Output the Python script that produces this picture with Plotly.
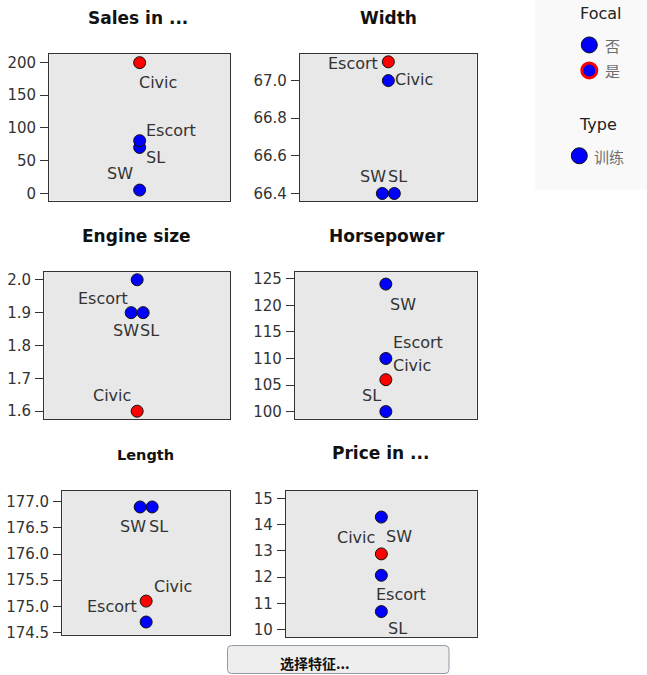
import plotly.graph_objects as go

# ---- data: focal car and its nearest neighbours ----
names = ["Civic", "Escort", "SW", "SL"]
is_focal = [True, False, False, False]

sales_in_thousands = [199.685, 70.227, 5.223, 80.620]
width = [67.1, 67.0, 66.4, 66.4]
engine_size = [1.6, 2.0, 1.9, 1.9]
horsepower = [106, 110, 124, 100]
length = [175.1, 174.7, 176.9, 176.9]
price_in_thousands = [12.885, 12.070, 14.290, 10.685]

panel_titles = ["Sales in ...", "Width", "Engine size", "Horsepower", "Length", "Price in ..."]
panel_values = [sales_in_thousands, width, engine_size, horsepower, length, price_in_thousands]

tick_sales = [0, 50, 100, 150, 200]
tick_width = [66.4, 66.6, 66.8, 67.0]
tick_engine = [1.6, 1.7, 1.8, 1.9, 2.0]
tick_hp = [100, 105, 110, 115, 120, 125]
tick_length = [174.5, 175.0, 175.5, 176.0, 176.5, 177.0]
tick_price = [10, 11, 12, 13, 14, 15]
panel_ticks = [tick_sales, tick_width, tick_engine, tick_hp, tick_length, tick_price]

focal_title = "Focal"
focal_labels = ["否", "是"]
type_title = "Type"
type_labels = ["训练"]
button_text = "选择特征..."

# ---- layout settings (pixels in a 647 x 675 page) ----
W, H = 647, 675
H_DRAW = 667.0   # vertical pixel scale used for paper placement
FONT = "DejaVu Sans"
CJK = "Noto Sans CJK SC"

# plot box (left, top, right, bottom) and y range of each panel
panel_boxes = [
    (49.3, 52.3, 230, 199.3),
    (300, 52.3, 476.7, 200),
    (44.3, 271, 230, 418.3),
    (295, 271, 476.7, 417.7),
    (62.3, 490, 230, 634),
    (286, 490, 476.7, 636.7),
]
panel_ranges = [
    (-10.7, 213.3),
    (66.359, 67.143),
    (1.5757, 2.0234),
    (98.68, 126.26),
    (174.46, 177.21),
    (9.707, 15.293),
]
tick_formats = ["d", ".1f", ".1f", "d", ".1f", "d"]
title_pos = [(138, 17, 17), (388, 17, 17), (136, 235, 17), (387, 235, 17),
             (145, 454, 14.5), (380, 452, 17)]

# label placement per panel: name -> (side, dx, dy) in pixels from the marker
label_place = [
    {"Civic": ("l", -1, 20), "Escort": ("l", 6, -17), "SL": ("l", 6, 17), "SW": ("r", -7, -17)},
    {"Civic": ("l", 6.7, 18), "Escort": ("r", -10.6, -17), "SW": ("r", 4, -17), "SL": ("l", -6.6, -17)},
    {"Escort": ("r", -9, 18.6), "SW": ("r", 8.3, 18), "SL": ("l", -3.3, 18), "Civic": ("r", -6, -15.3)},
    {"SW": ("l", 4.3, 20), "Escort": ("l", 7.6, -16), "Civic": ("l", 7.6, -14), "SL": ("r", -5, -16.4)},
    {"SW": ("r", 5.7, 20), "SL": ("l", -3.3, 20), "Civic": ("l", 7.6, -15), "Escort": ("r", -9, -16)},
    {"SW": ("l", 4.3, 19.7), "Civic": ("r", -6.7, -16), "Escort": ("l", -5.7, 19.4), "SL": ("l", 6.6, 17.3)},
]

DODGE_PX = 6  # side-by-side spread for tied values


def px_x(p):
    return p / W


def px_y(p):
    return 1 - (p - 0.5) / H_DRAW


fig = go.Figure()
annotations = []
shapes = []
layout_axes = {}

for i, (title, values, ticks) in enumerate(zip(panel_titles, panel_values, panel_ticks)):
    n = i + 1
    xa = "x" if n == 1 else f"x{n}"
    ya = "y" if n == 1 else f"y{n}"
    left, top, right, bottom = panel_boxes[i]
    box_w = right - left

    # dodge tied values left/right around the centre line
    xs = []
    for j, v in enumerate(values):
        ties = [k for k, w in enumerate(values) if w == v]
        if len(ties) > 1:
            rank = ties.index(j)
            off = (rank - (len(ties) - 1) / 2) * 2 * DODGE_PX / box_w
        else:
            off = 0
        xs.append(0.5 + off)

    colors = ["#ff0000" if f else "#0000ff" for f in is_focal]
    fig.add_trace(go.Scatter(
        x=xs, y=values, mode="markers", xaxis=xa, yaxis=ya,
        marker=dict(size=12, color=colors, line=dict(color="#111111", width=1)),
        hoverinfo="text", text=names, showlegend=False,
    ))

    for j, name in enumerate(names):
        side, dx, dy = label_place[i][name]
        annotations.append(dict(
            xref=xa, yref=ya, x=xs[j], y=values[j], text=name, showarrow=False,
            xanchor="left" if side == "l" else "right", yanchor="middle",
            xshift=dx, yshift=-dy, borderpad=0, borderwidth=0,
            font=dict(family=FONT, size=16, color="#333333"),
        ))

    tx, ty, ts = title_pos[i]
    annotations.append(dict(
        xref="paper", yref="paper", x=px_x(tx), y=px_y(ty), text=f"<b>{title}</b>",
        showarrow=False, xanchor="center", yanchor="middle",
        font=dict(family=FONT, size=ts, color="#111111"),
    ))

    key_x = "xaxis" if n == 1 else f"xaxis{n}"
    key_y = "yaxis" if n == 1 else f"yaxis{n}"
    layout_axes[key_x] = dict(
        domain=[px_x(left), px_x(right)], range=[0, 1], anchor=ya,
        showgrid=False, zeroline=False, showticklabels=False, ticks="",
        showline=True, mirror=True, linecolor="#333333", linewidth=1.3,
        fixedrange=True,
    )
    layout_axes[key_y] = dict(
        domain=[px_y(bottom), px_y(top)], range=list(panel_ranges[i]), anchor=xa,
        showgrid=False, zeroline=False,
        tickvals=ticks, tickformat=tick_formats[i],
        ticks="outside", ticklen=8, tickwidth=1, tickcolor="#333333",
        ticklabelstandoff=1,
        tickfont=dict(family=FONT, size=15, color="#333333"),
        showline=True, mirror=True, linecolor="#333333", linewidth=1.3,
        fixedrange=True,
    )

# ---- legend panel ----
shapes.append(dict(type="rect", xref="paper", yref="paper",
                   x0=px_x(535), x1=px_x(647), y0=px_y(188), y1=px_y(-2),
                   fillcolor="#f9f9f9", line=dict(width=0), layer="below"))


def legend_dot(cx, cy, d, fill, edge, edge_w):
    return dict(type="circle", xref="paper", yref="paper",
                xsizemode="pixel", ysizemode="pixel",
                xanchor=px_x(cx), yanchor=px_y(cy),
                x0=-d / 2, x1=d / 2, y0=-d / 2, y1=d / 2,
                fillcolor=fill, line=dict(color=edge, width=edge_w))


annotations.append(dict(xref="paper", yref="paper", x=px_x(600), y=px_y(12),
                        text=focal_title, showarrow=False, xanchor="center", yanchor="middle",
                        font=dict(family=FONT, size=16, color="#222222")))
shapes.append(legend_dot(589.3, 43.5, 16, "#0000ff", "#111111", 1))
shapes.append(legend_dot(589.3, 69, 15, "#0000ff", "#ff0000", 3))
for lbl, yy in zip(focal_labels, [44, 69]):
    annotations.append(dict(xref="paper", yref="paper", x=px_x(603), y=px_y(yy),
                            text=lbl, showarrow=False, xanchor="left", yanchor="middle",
                            font=dict(family=CJK, size=15, color="#6e6e6e")))

annotations.append(dict(xref="paper", yref="paper", x=px_x(598), y=px_y(123),
                        text=type_title, showarrow=False, xanchor="center", yanchor="middle",
                        font=dict(family=FONT, size=16, color="#222222")))
shapes.append(legend_dot(579.3, 154.5, 16, "#0000ff", "#111111", 1))
annotations.append(dict(xref="paper", yref="paper", x=px_x(592), y=px_y(155),
                        text=type_labels[0], showarrow=False, xanchor="left", yanchor="middle",
                        font=dict(family=CJK, size=15, color="#6e6e6e")))

# ---- button ----
bx0, by0, bx1, by1, r = 227.5, 645, 449, 673, 4
path = (f"M {px_x(bx0 + r)},{px_y(by0)} L {px_x(bx1 - r)},{px_y(by0)} "
        f"Q {px_x(bx1)},{px_y(by0)} {px_x(bx1)},{px_y(by0 + r)} "
        f"L {px_x(bx1)},{px_y(by1 - r)} Q {px_x(bx1)},{px_y(by1)} {px_x(bx1 - r)},{px_y(by1)} "
        f"L {px_x(bx0 + r)},{px_y(by1)} Q {px_x(bx0)},{px_y(by1)} {px_x(bx0)},{px_y(by1 - r)} "
        f"L {px_x(bx0)},{px_y(by0 + r)} Q {px_x(bx0)},{px_y(by0)} {px_x(bx0 + r)},{px_y(by0)} Z")
shapes.append(dict(type="path", xref="paper", yref="paper", path=path,
                   fillcolor="#eeeeee", line=dict(color="#8f9aa6", width=1)))
annotations.append(dict(xref="paper", yref="paper", x=px_x(315), y=px_y(662),
                        text=f"<b>{button_text}</b>", showarrow=False,
                        xanchor="center", yanchor="middle",
                        font=dict(family=CJK, size=14, color="#111111")))

fig.update_layout(
    width=W, height=H, margin=dict(l=0, r=0, t=0, b=0),
    paper_bgcolor="#ffffff", plot_bgcolor="#e8e8e8",
    showlegend=False, annotations=annotations, shapes=shapes,
    **layout_axes,
)

fig.write_html("out.html")
